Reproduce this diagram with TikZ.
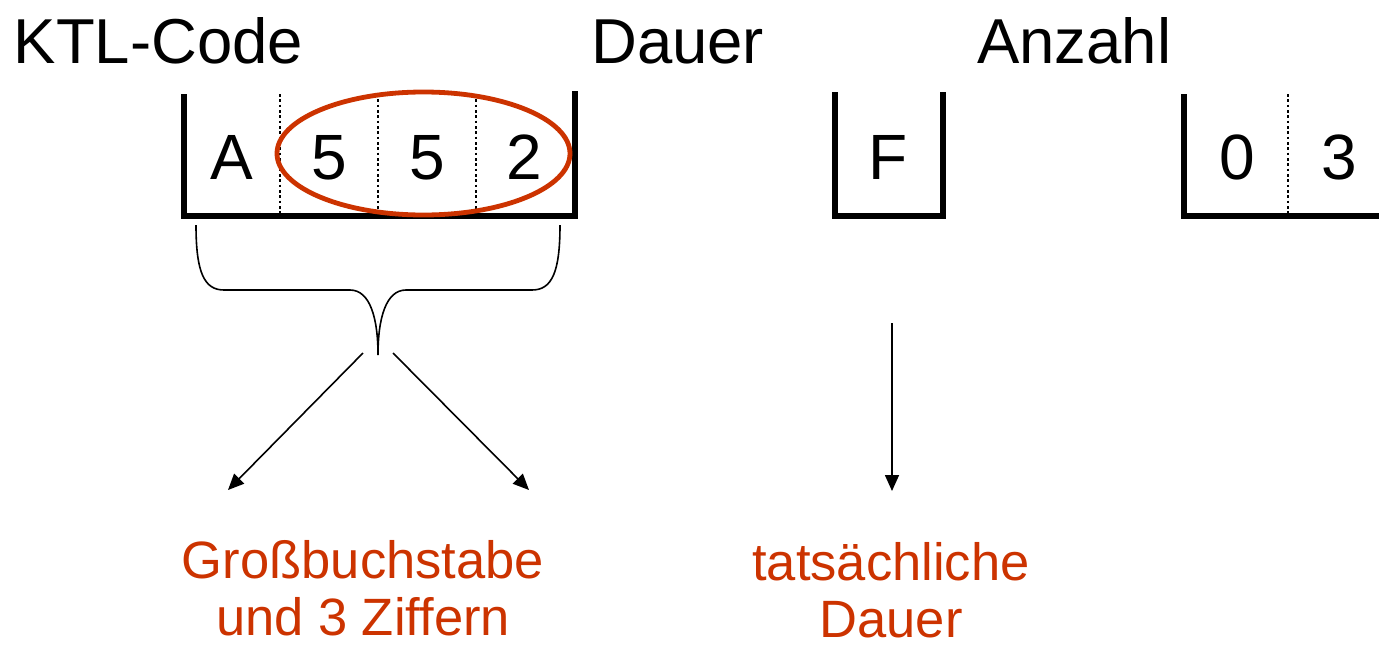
\documentclass[tikz,border=0pt]{standalone}
\usepackage{fontspec}
\setmainfont{Liberation Sans}
\usetikzlibrary{arrows.meta}
\definecolor{ktlred}{RGB}{204,51,0}
\begin{document}
\begin{tikzpicture}[x=0.75pt,y=-0.75pt,
  title/.style={anchor=base west,inner sep=0pt,font=\fontsize{47.6}{50}\selectfont},
  cell/.style={anchor=base,inner sep=0pt,font=\fontsize{48}{50}\selectfont},
  note/.style={anchor=base,align=center,inner sep=0pt,text=ktlred,font=\fontsize{39.4}{42.75}\selectfont},
  frame/.style={line width=4pt,line join=miter},
  divider/.style={line width=2.2pt,dash pattern=on 2pt off 2pt},
  brace/.style={line width=1.2pt},
  pointer/.style={line width=1.2pt,-{Triangle[length=12pt,width=10.5pt]}},
]
\useasboundingbox (0,0) rectangle (1379,647);

% field titles
\node[title] (tktl) at (13.5,63) {KTL-Code};
\node[title] (tdauer) at (591,63) {Dauer};
\node[title] (tanzahl) at (977,63) {Anzahl};

% KTL-Code field: four cells
\draw[frame] (184,94) -- (184,216) -- (575,216) -- (575,91);
\foreach \x in {280,378,476} \draw[divider] (\x,94) -- (\x,214);
\node[cell] (ca) at (232,179) {A};
\node[cell] (c1) at (329,179) {5};
\node[cell] (c2) at (427,179) {5};
\node[cell] (c3) at (524,179) {2};

% Dauer field
\draw[frame] (835,92) -- (835,216) -- (943,216) -- (943,92);
\node[cell] (cf) at (888,179) {F};

% Anzahl field
\draw[frame] (1184,94) -- (1184,216) -- (1379,216);
\draw[divider] (1288,94) -- (1288,214);
\node[cell] (cn0) at (1237,179) {0};
\node[cell] (cn1) at (1339,179) {3};

% digits highlighted
\draw[ktlred,line width=3.6pt] (423.5,153.5) ellipse [x radius=146.5,y radius=61.5];

% brace under the KTL-Code field
\coordinate (bl) at (196,225);
\coordinate (br) at (560,225);
\coordinate (btip) at (378,355);
\draw[brace] (bl) .. controls (196,272) and (204,290) .. (224,290)
  -- (350,290) .. controls (370,290) and (378,318) .. (btip)
  .. controls (378,318) and (386,290) .. (406,290)
  -- (532,290) .. controls (552,290) and (560,272) .. (br);

% explanations (anchored at the baseline of the last line)
\node[note] (nktl) at (363,635) {Großbuchstabe\\und 3 Ziffern};
\node[note] (ndauer) at (891,637) {tatsächliche\\Dauer};

\coordinate (s1) at (363,353);
\coordinate (s2) at (393,353);
\coordinate (e1) at (228,490);
\coordinate (e2) at (529,490);
\coordinate (s3) at (892,323);
\coordinate (e3) at (892,491);
\draw[pointer] (s1) -- (e1);
\draw[pointer] (s2) -- (e2);
\draw[pointer] (s3) -- (e3);
\end{tikzpicture}
\end{document}
